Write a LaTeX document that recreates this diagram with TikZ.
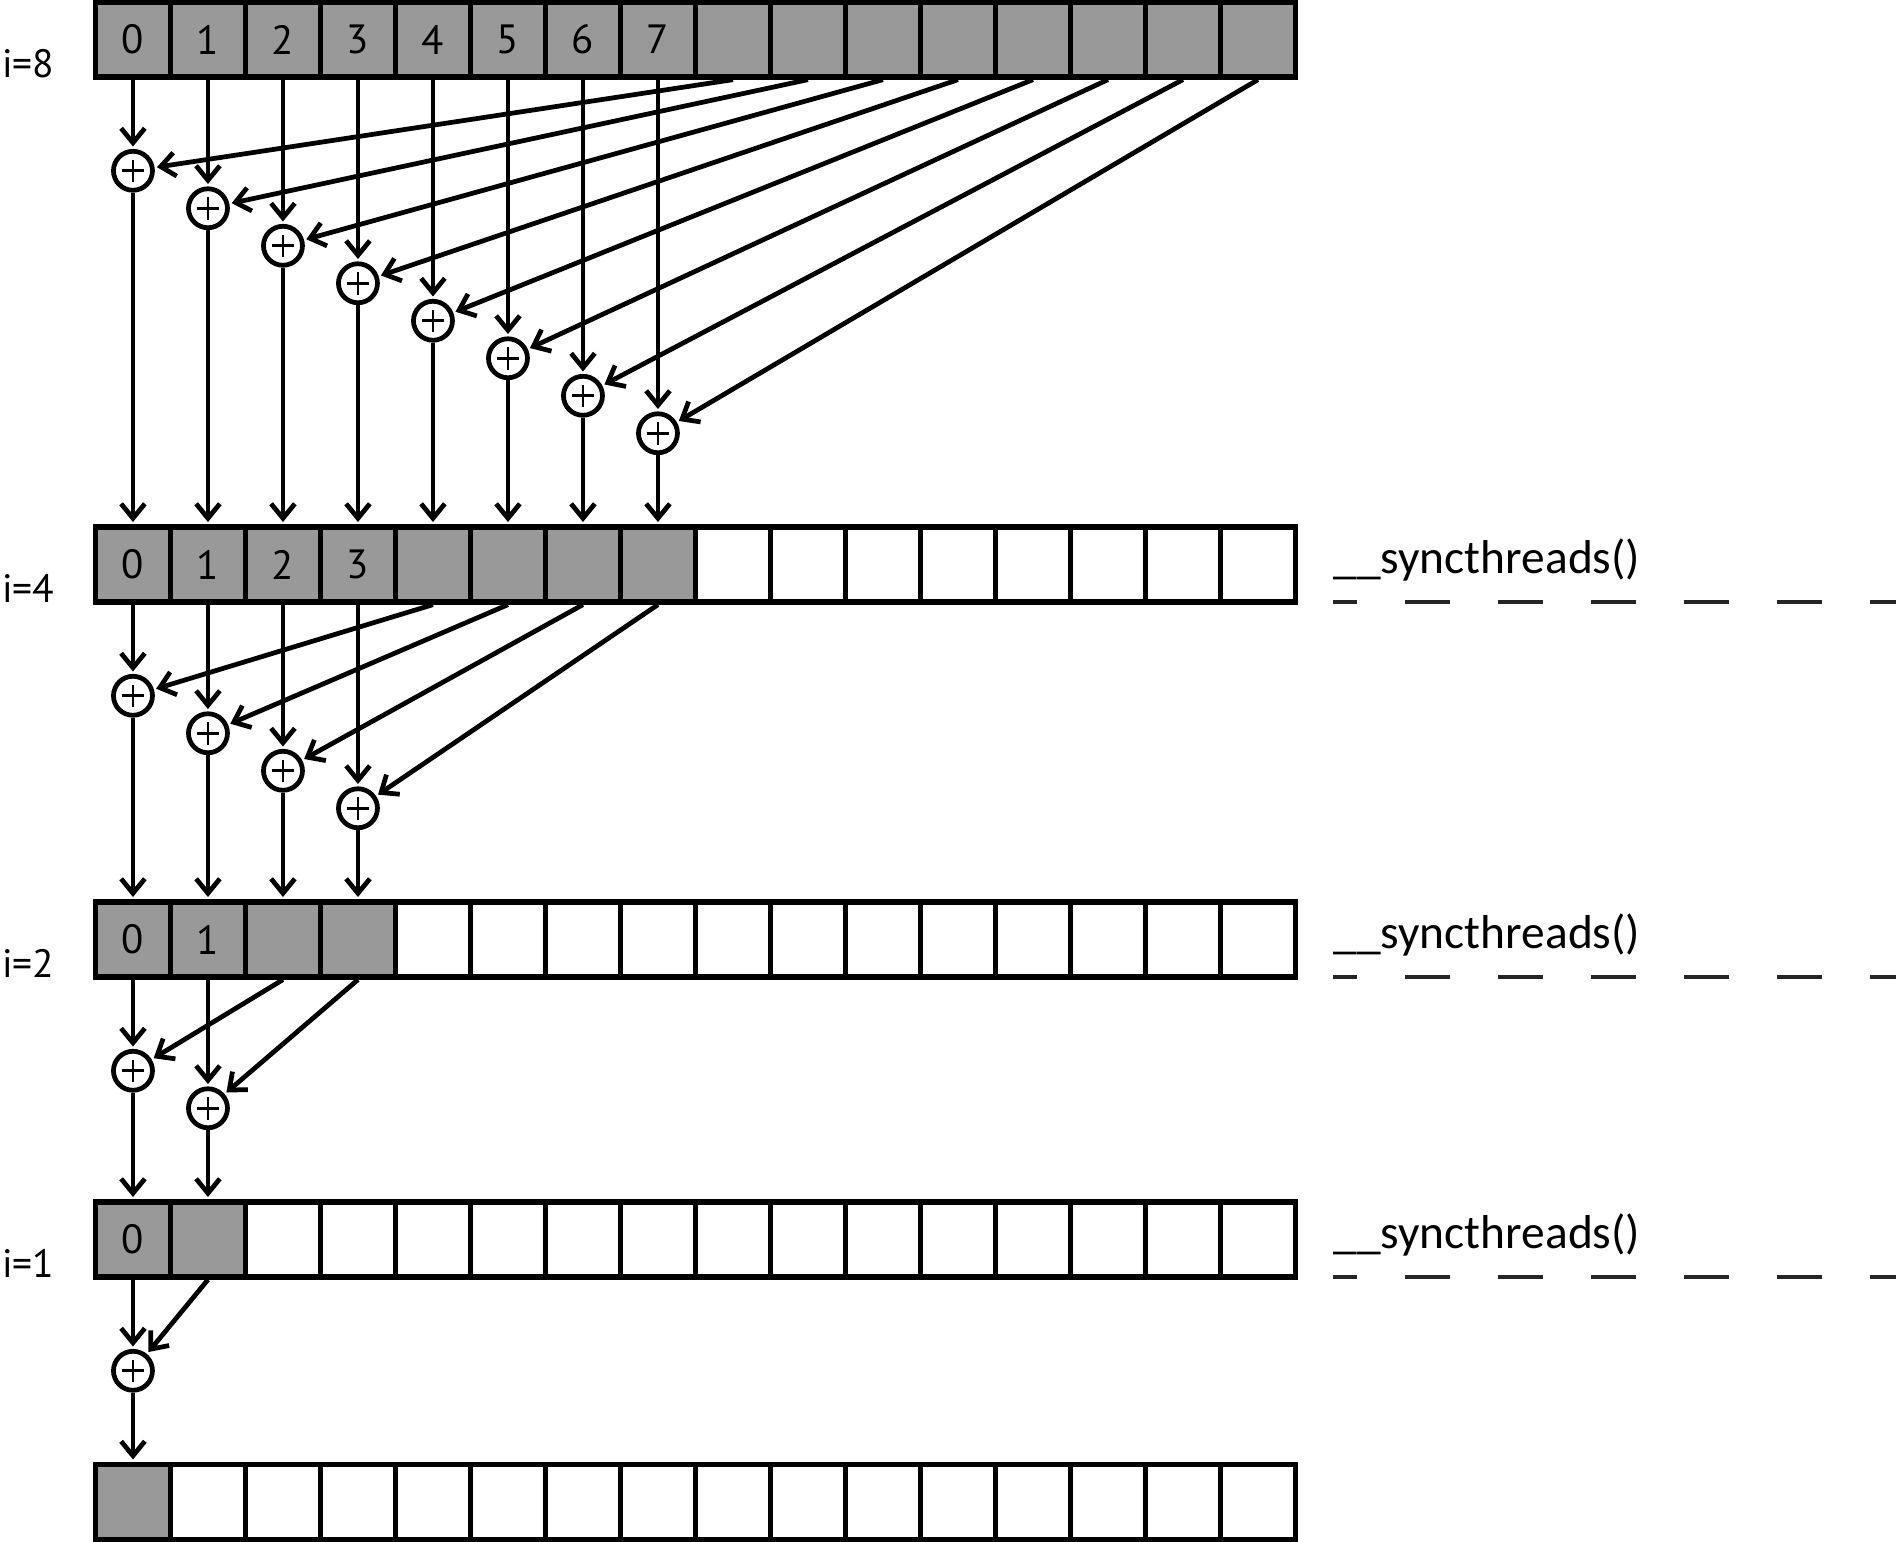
\documentclass[tikz,border=0pt]{standalone}
\usepackage{fontspec}
\setmainfont{PT Sans}
\newfontfamily\syncfont{Carlito}
\usetikzlibrary{arrows.meta}

\begin{document}
\begin{tikzpicture}[>={Straight Barb[length=5.5pt,width=9pt]},
    cell/.style={draw,line width=2pt,minimum size=1cm,inner sep=0pt,font=\fontsize{15.5}{15.5}\selectfont},
    full/.style={cell,fill=black!40},
    adder/.style={draw,circle,line width=1.8pt,minimum size=0.52cm,inner sep=0pt,
        path picture={\draw[line width=1.1pt] (path picture bounding box.center) +(-0.15,0) -- +(0.15,0) +(0,-0.15) -- +(0,0.15);}},
    flow/.style={->,line width=1.8pt,shorten >=0.9pt},
    lvl/.style={anchor=base west,inner sep=0pt,font=\fontsize{15}{15}\selectfont},
    sync/.style={anchor=base west,inner sep=0pt,font=\syncfont\fontsize{18}{18}\selectfont},
    barrier/.style={line width=1.6pt,black!85,dash pattern=on 17.07pt off 18.2pt,dash phase=7.97pt}]
    \useasboundingbox (-1.273,0.027) rectangle (24.007,-20.533);
    % rows: name / top / grey cells / numbered cells
    \foreach \r/\top/\ngrey/\nlab in {a/0/16/8, b/-7/8/4, c/-12/4/2, d/-16/2/1, e/-19.5/1/0}{
        \foreach \k in {0,...,15}{
            \ifnum\k<\ngrey\relax \def\sty{full}\else\def\sty{cell}\fi
            \node[\sty] (\r\k) at (\k+0.5,\top-0.5) {\ifnum\k<\nlab\relax\k\fi};
        }
    }
    % adders: row / stride / next row / row bottom
    \foreach \r/\n/\nxt/\b [evaluate=\n as \m using int(\n-1)] in {a/8/b/-1, b/4/c/-8, c/2/d/-13, d/1/e/-17}{
        \foreach \k [evaluate=\k as \j using int(\k+\n)] in {0,...,\m}{
            \node[adder] (\r s\k) at (\k+0.5,\b-1.25-0.5*\k) {};
            \draw[flow] (\r\k.south) -- (\r s\k.north);
            \draw[flow] (\r\j.south) -- (\r s\k);
            \draw[flow] (\r s\k.south) -- (\nxt\k.north);
        }
    }
    \node[lvl] (l8) at (-1.25,-1) {i=8};
    \node[lvl] (l4) at (-1.25,-8) {i=4};
    \node[lvl] (l2) at (-1.25,-13) {i=2};
    \node[lvl] (l1) at (-1.25,-17) {i=1};
    % barriers
    \foreach \b/\lab in {-8/s4, -13/s2, -17/s1}{
        \node[sync] (\lab) at (16.5,\b+0.38) {\_\_syncthreads()};
        \draw[barrier] (16.5,\b) -- (24.007,\b);
    }
\end{tikzpicture}
\end{document}
